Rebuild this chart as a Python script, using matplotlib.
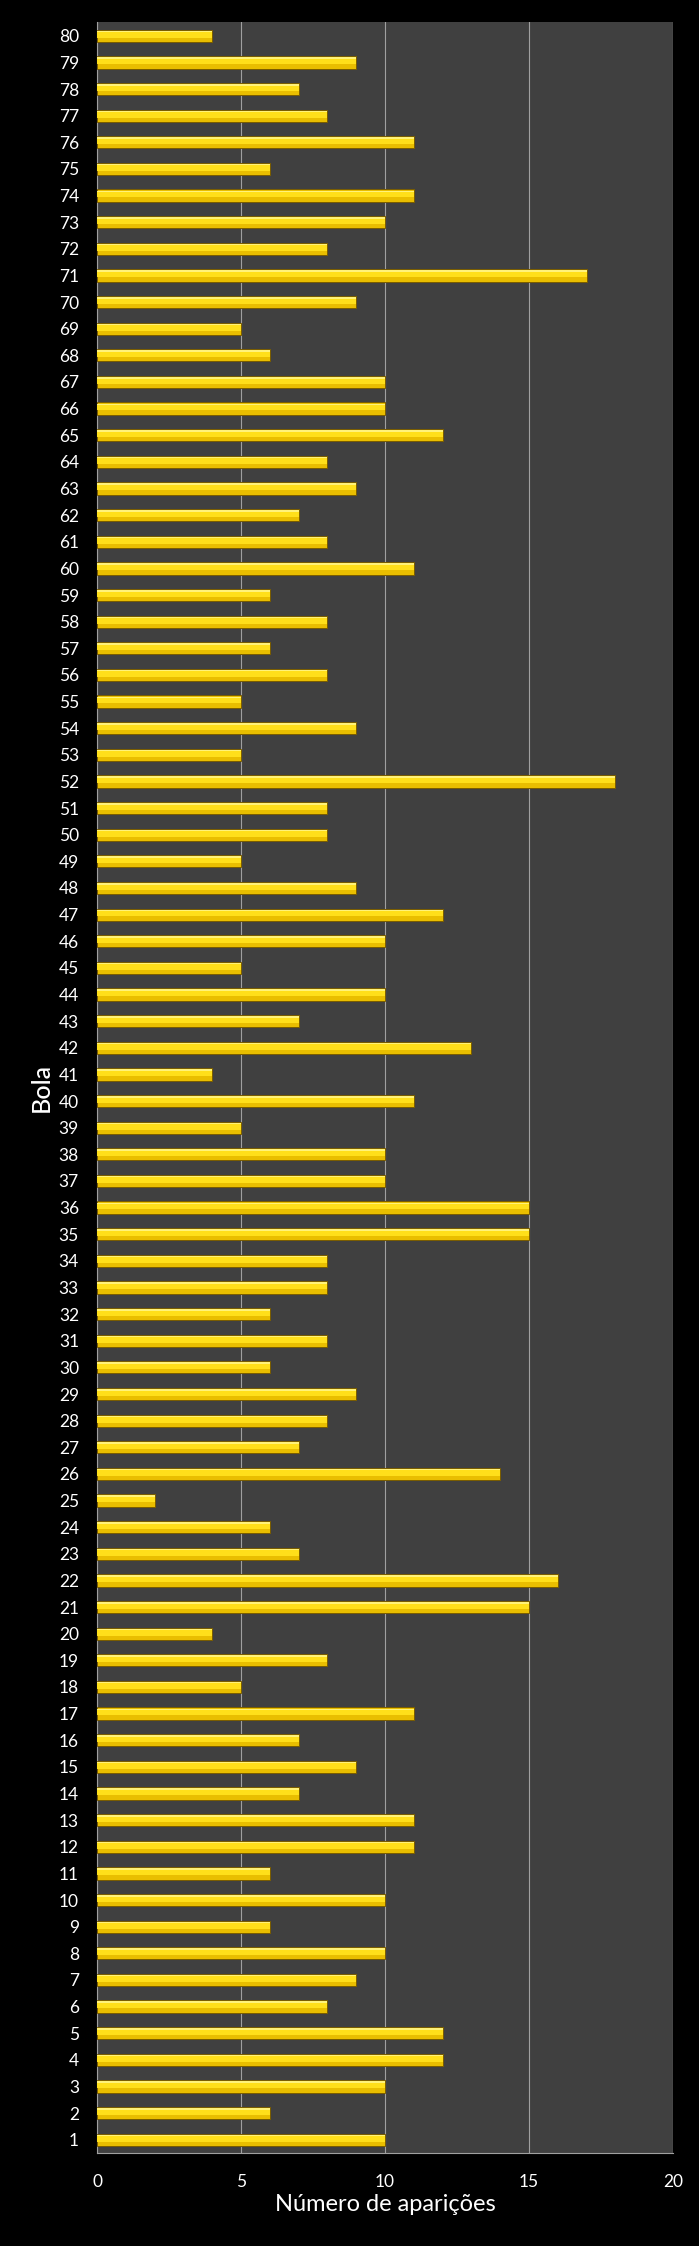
import numpy as np
import matplotlib
matplotlib.use("Agg")
import matplotlib.pyplot as plt

plt.rcParams['font.family'] = ['Lato', 'DejaVu Sans']

# numero da bola e quantas vezes apareceu
bolas = list(range(1, 81))
aparicoes = [10, 6, 10, 12, 12, 8, 9, 10, 6, 10,
             6, 11, 11, 7, 9, 7, 11, 5, 8, 4,
             15, 16, 7, 6, 2, 14, 7, 8, 9, 6,
             8, 6, 8, 8, 15, 15, 10, 10, 5, 11,
             4, 13, 7, 10, 5, 10, 12, 9, 5, 8,
             8, 18, 5, 9, 5, 8, 6, 8, 6, 11,
             8, 7, 9, 8, 12, 10, 10, 6, 5, 9,
             17, 8, 10, 11, 6, 11, 8, 7, 9, 4]
xticks = [0, 5, 10, 15, 20]

fig = plt.figure(figsize=(6.99, 22.46), dpi=100, facecolor='black')
ax = fig.add_axes([0.1388, 0.0414, 0.824, 0.9486])
ax.set_facecolor('#404040')

# barra dourada com efeito de relevo
y = np.array(bolas)
ax.barh(y, aparicoes, height=0.46, color='#E9BE00', edgecolor='#7A5C00', linewidth=0.7, zorder=3)
ax.barh(y + 0.04, aparicoes, height=0.22, color='#FFDF1A', linewidth=0, zorder=4)
ax.barh(y + 0.16, aparicoes, height=0.06, color='#FFF27A', linewidth=0, zorder=5)

ax.set_xlim(0, 20)
ax.set_ylim(0.5, 80.5)
ax.set_xticks(xticks)
ax.set_yticks(bolas)
ax.set_yticklabels([str(b) for b in bolas])
ax.xaxis.grid(True, color='#A0A0A0', linewidth=0.8, zorder=1)
ax.set_axisbelow(True)

for s in ['top', 'right']:
    ax.spines[s].set_visible(False)
for s in ['left', 'bottom']:
    ax.spines[s].set_color('#A0A0A0')
    ax.spines[s].set_linewidth(0.8)

ax.tick_params(axis='y', length=0, pad=13, labelsize=12.5, labelcolor='white')
ax.tick_params(axis='x', length=0, pad=15, labelsize=12.5, labelcolor='white')

ax.set_xlabel('Número de aparições', color='white', fontsize=17, labelpad=3)
ax.set_ylabel('Bola', color='white', fontsize=18, fontweight='medium', labelpad=4)

fig.savefig('out.png', dpi=100, facecolor='black')
